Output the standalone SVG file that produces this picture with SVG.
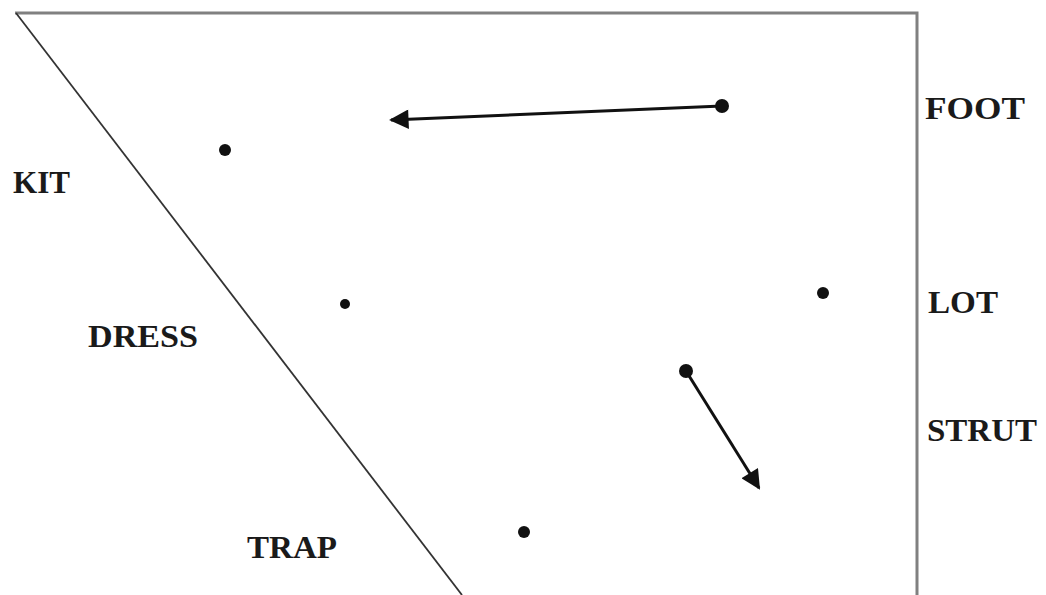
<svg xmlns="http://www.w3.org/2000/svg" width="1046" height="595" viewBox="0 0 1046 595">
<style>
.lbl{font-family:"Liberation Serif","DejaVu Serif",serif;font-weight:bold;font-size:31px;fill:#1a1a1a}
.dot{fill:#111}
.arr{stroke:#111;stroke-width:3;fill:none}
</style>
<defs>
<marker id="ah" viewBox="0 0 10 10" refX="9" refY="5" markerWidth="7.5" markerHeight="6.5" markerUnits="strokeWidth" orient="auto">
<path d="M0,0 L10,5 L0,10 z" fill="#111"/>
</marker>
</defs>
<rect width="1046" height="595" fill="#fff"/>
<g id="frame">
<polyline points="15,13 917,13 917,595" fill="none" stroke="#808080" stroke-width="3"/>
<line x1="16" y1="13" x2="462" y2="595" stroke="#333" stroke-width="1.8"/>
</g>
<g id="connectors">
<line class="arr" x1="722" y1="106" x2="391" y2="120" marker-end="url(#ah)"/>
<line class="arr" x1="686" y1="371" x2="759" y2="488" marker-end="url(#ah)"/>
</g>
<g id="dots">
<circle id="d1" class="dot" cx="225" cy="150" r="6"/>
<circle id="d2" class="dot" cx="345" cy="304" r="5"/>
<circle id="d3" class="dot" cx="823" cy="293" r="6"/>
<circle id="d4" class="dot" cx="524" cy="532" r="6"/>
<circle id="d5" class="dot" cx="722" cy="106" r="7"/>
<circle id="d6" class="dot" cx="686" cy="371" r="7"/>
</g>
<g id="labels">
<g id="foot"><text class="lbl" x="925" y="119" textLength="100" lengthAdjust="spacingAndGlyphs">FOOT</text></g>
<g id="kit"><text class="lbl" x="13" y="193" textLength="57" lengthAdjust="spacingAndGlyphs">KIT</text></g>
<g id="lot"><text class="lbl" x="928" y="313" textLength="70" lengthAdjust="spacingAndGlyphs">LOT</text></g>
<g id="dress"><text class="lbl" x="88" y="347" textLength="110" lengthAdjust="spacingAndGlyphs">DRESS</text></g>
<g id="strut"><text class="lbl" x="927" y="441" textLength="110" lengthAdjust="spacingAndGlyphs">STRUT</text></g>
<g id="trap"><text class="lbl" x="247" y="558" textLength="90" lengthAdjust="spacingAndGlyphs">TRAP</text></g>
</g>
</svg>
